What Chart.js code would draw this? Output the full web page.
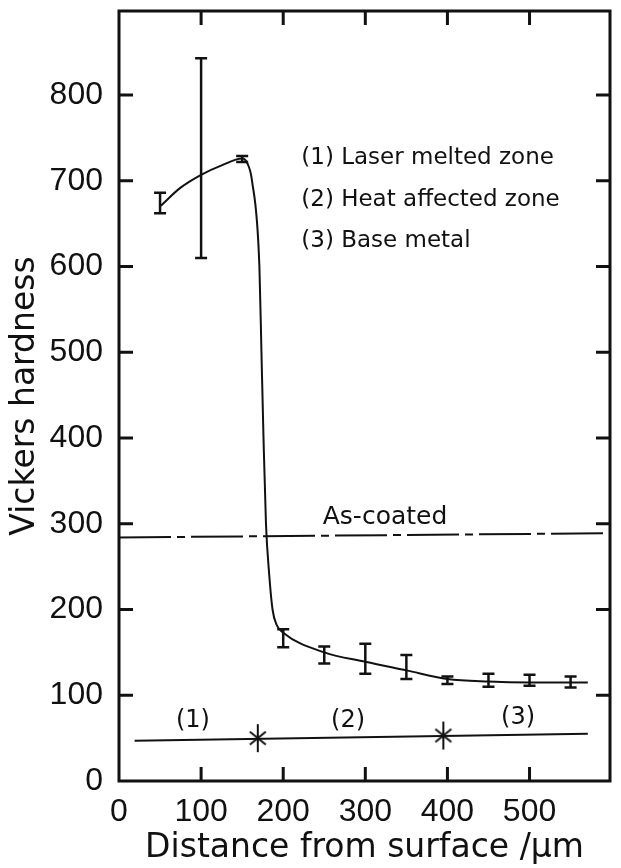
<!DOCTYPE html>
<html>
<head>
<meta charset="utf-8">
<script src="https://cdn.jsdelivr.net/npm/chart.js@4.4.1/dist/chart.umd.min.js"></script>
<style>
  html, body { margin: 0; padding: 0; background: #fff; }
</style>
</head>
<body>
<canvas id="hardnessChart" width="621" height="868"></canvas>
<script>
// Vickers hardness profile across a laser treated coating

const xTicks = [0, 100, 200, 300, 400, 500];
const yTicks = [0, 100, 200, 300, 400, 500, 600, 700, 800];

// smooth trend curve
const curveX = [51, 75, 100, 125, 150, 156, 162, 171, 173.5, 176, 179, 183, 187, 192, 200, 250, 300, 350, 400, 450, 500, 550, 571];
const curveY = [671, 692, 707, 718, 726, 721, 700, 600, 500, 400, 300, 240, 200, 182, 173, 150, 139, 129, 119, 116, 115, 115, 115];

// measured points with scatter bars
const errX = [50, 100, 150, 200, 250, 300, 350, 400, 450, 500, 550];
const errLow = [662, 610, 722, 156, 137, 125, 119, 113, 110, 111, 109];
const errHigh = [686, 843, 729, 177, 157, 160, 147, 122, 125, 124, 122];

// as-coated hardness level
const coatedX = [0, 598];
const coatedY = [284, 289];

// zone boundary line and its markers
const zoneX = [19, 571];
const zoneY = [47, 55];
const boundaryX = [169, 395];
const boundaryY = [50, 53];

const zoneNames = ['(1) Laser melted zone', '(2) Heat affected zone', '(3) Base metal'];
const zoneTags = ['(1)', '(2)', '(3)'];

const pts = (xs, ys) => xs.map((v, i) => ({ x: v, y: ys[i] }));

function makeStar() {
    const c = document.createElement('canvas');
    c.width = 20;
    c.height = 30;
    const g = c.getContext('2d');
    g.strokeStyle = '#111';
    g.lineWidth = 2;
    g.beginPath();
    g.moveTo(10, 1); g.lineTo(10, 29);
    g.moveTo(2, 8.5); g.lineTo(18, 21.5);
    g.moveTo(18, 8.5); g.lineTo(2, 21.5);
    g.stroke();
    return c;
}

// text placed in data units
const notes = [
    { text: zoneNames[0], x: 222, y: 726, size: 23, align: 'left' },
    { text: zoneNames[1], x: 222, y: 678, size: 23, align: 'left' },
    { text: zoneNames[2], x: 222, y: 630, size: 23, align: 'left' },
    { text: 'As-coated', x: 324, y: 307, size: 25, align: 'center' },
    { text: zoneTags[0], x: 90, y: 70, size: 24, align: 'center' },
    { text: zoneTags[1], x: 279, y: 70, size: 24, align: 'center' },
    { text: zoneTags[2], x: 486, y: 74, size: 24, align: 'center' }
];

const framePlugin = {
    id: 'frame',
    afterDatasetsDraw(chart) {
        const { ctx, chartArea: a, scales: { x, y } } = chart;
        ctx.save();
        ctx.strokeStyle = '#111';
        ctx.lineWidth = 2.5;

        // error bars
        const cap = 6;
        ctx.beginPath();
        errX.forEach((v, i) => {
            const px = x.getPixelForValue(v);
            const lo = y.getPixelForValue(errLow[i]);
            const hi = y.getPixelForValue(errHigh[i]);
            ctx.moveTo(px, lo); ctx.lineTo(px, hi);
            ctx.moveTo(px - cap, lo); ctx.lineTo(px + cap, lo);
            ctx.moveTo(px - cap, hi); ctx.lineTo(px + cap, hi);
        });
        ctx.stroke();

        // frame with inward ticks on all sides
        ctx.lineWidth = 3;
        ctx.strokeRect(a.left, a.top, a.right - a.left, a.bottom - a.top);
        const len = 14;
        ctx.beginPath();
        xTicks.filter(v => v > 0).forEach(v => {
            const px = x.getPixelForValue(v);
            ctx.moveTo(px, a.bottom); ctx.lineTo(px, a.bottom - len);
            ctx.moveTo(px, a.top); ctx.lineTo(px, a.top + len);
        });
        yTicks.filter(v => v > 0).forEach(v => {
            const py = y.getPixelForValue(v);
            ctx.moveTo(a.left, py); ctx.lineTo(a.left + len, py);
            ctx.moveTo(a.right, py); ctx.lineTo(a.right - len, py);
        });
        ctx.stroke();

        // labels
        ctx.fillStyle = '#111';
        ctx.textBaseline = 'middle';
        notes.forEach(n => {
            ctx.font = n.size + 'px "DejaVu Sans"';
            ctx.textAlign = n.align;
            ctx.fillText(n.text, x.getPixelForValue(n.x), y.getPixelForValue(n.y));
        });
        ctx.restore();
    }
};

const tickFont = { family: '"Liberation Sans", "DejaVu Sans", sans-serif', size: 32 };
const titleFont = { family: '"DejaVu Sans", sans-serif', size: 33, lineHeight: 1 };

new Chart(document.getElementById('hardnessChart').getContext('2d'), {
    type: 'scatter',
    data: {
        datasets: [{
            label: 'Trend',
            data: pts(curveX, curveY),
            showLine: true,
            borderColor: '#111',
            borderWidth: 2,
            pointRadius: 0,
            cubicInterpolationMode: 'monotone'
        }, {
            label: 'As-coated',
            data: pts(coatedX, coatedY),
            showLine: true,
            borderColor: '#111',
            borderWidth: 2,
            borderDash: [52, 6, 8, 6],
            pointRadius: 0
        }, {
            label: 'Zones',
            data: pts(zoneX, zoneY),
            showLine: true,
            borderColor: '#111',
            borderWidth: 2,
            pointRadius: 0
        }, {
            label: 'Boundaries',
            data: pts(boundaryX, boundaryY),
            showLine: false,
            pointStyle: makeStar(),
            pointRadius: 10
        }]
    },
    options: {
        responsive: false,
        animation: false,
        layout: { padding: { top: 8, right: 4, left: 0, bottom: 0 } },
        plugins: {
            legend: { display: false },
            tooltip: { enabled: false }
        },
        scales: {
            x: {
                type: 'linear',
                min: 0,
                max: 598,
                grid: { display: false, drawTicks: false },
                border: { display: false },
                afterBuildTicks: s => { s.ticks = xTicks.map(v => ({ value: v })); },
                afterFit: s => { s.height = 87; s.paddingLeft = 0; s.paddingRight = 0; },
                ticks: { font: tickFont, color: '#111', padding: 12, maxRotation: 0 },
                title: {
                    display: true,
                    text: 'Distance from surface /µm',
                    font: titleFont,
                    color: '#111',
                    padding: { top: 0, bottom: 3 }
                }
            },
            y: {
                type: 'linear',
                min: 0,
                max: 898,
                grid: { display: false, drawTicks: false },
                border: { display: false },
                afterBuildTicks: s => { s.ticks = yTicks.map(v => ({ value: v })); },
                afterFit: s => { s.width = 119; s.paddingTop = 0; s.paddingBottom = 0; },
                ticks: { font: tickFont, color: '#111', padding: 16 },
                title: {
                    display: true,
                    text: 'Vickers hardness',
                    font: titleFont,
                    color: '#111',
                    padding: { top: 9, bottom: 0 }
                }
            }
        }
    },
    plugins: [framePlugin]
});
</script>
</body>
</html>
